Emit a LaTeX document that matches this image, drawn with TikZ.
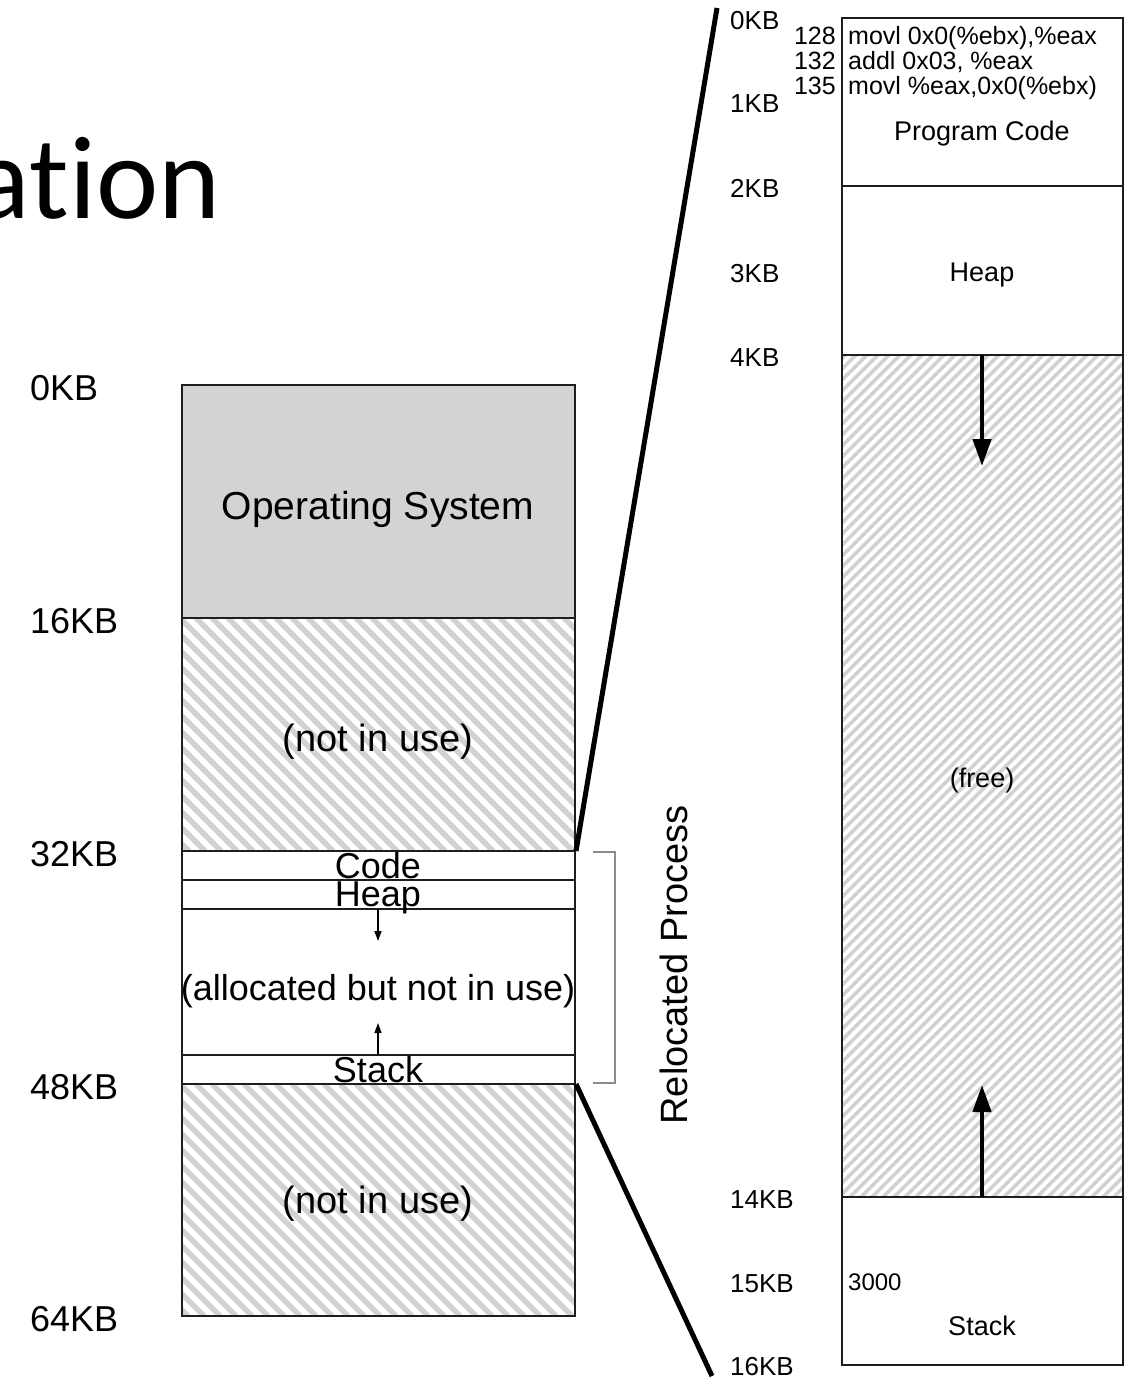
\documentclass[tikz,border=0pt]{standalone}
\usepackage{fontspec}
\setmainfont{Liberation Sans}
\newfontfamily\titlefont[Ligatures=NoCommon,RawFeature={-liga;-clig;-calt;-dlig}]{Carlito}
\usetikzlibrary{arrows.meta}
\newcommand{\fsz}[1]{\fontsize{#1}{#1}\selectfont}
\definecolor{osgray}{HTML}{D3D3D3}
\definecolor{hatchgray}{HTML}{D2D2D2}
\definecolor{edge}{HTML}{1E1E1E}
\definecolor{bracketgray}{HTML}{8C8C8C}
\begin{document}
\begin{tikzpicture}[x=1pt,y=-1pt,
  txt/.style={inner sep=0pt,anchor=base},
  lefttxt/.style={inner sep=0pt,anchor=base west},
  righttxt/.style={inner sep=0pt,anchor=base east},
  hatchL/.style={draw=hatchgray,line width=5.5pt},
  hatchR/.style={draw=hatchgray,line width=3.8pt},
  boxline/.style={draw=edge,line width=2.6pt},
  thinline/.style={draw=edge,line width=2pt},
  bigarrow/.style={line width=4.5pt,-{Triangle[width=18pt,length=27pt]}},
  smallarrow/.style={line width=1.5pt,-{Triangle[width=7pt,length=10pt]}},
  zoomline/.style={line width=5pt,black},
  bracket/.style={draw=bracketgray,line width=2pt}]
\useasboundingbox (0,0) rectangle (1133,1378);

% slide title fragment (t and i kept as separate glyphs)
\node[inner sep=0pt,anchor=base east] (title) at (221,218) {\titlefont\fsz{118}a\mbox{t}\mbox{i}on};

% ---------- physical memory (left) ----------
\fill[osgray] (182,385) rectangle (575,618);
\begin{scope}
  \clip (182,618) rectangle (575,851);
  \foreach \a in {-60,-44,...,590} \draw[hatchL] (\a,618) -- ++(233,233);
\end{scope}
\begin{scope}
  \clip (182,1084) rectangle (575,1316);
  \foreach \a in {-60,-44,...,590} \draw[hatchL] (\a,1084) -- ++(232,232);
\end{scope}
\draw[boxline] (182,385) rectangle (575,1316);
\foreach \yy in {618,851,1084} \draw[boxline] (182,\yy) -- (575,\yy);
\foreach \yy in {880,909,1055} \draw[thinline] (182,\yy) -- (575,\yy);

\coordinate (p32) at (576,851);
\coordinate (p48) at (576,1084);

\node[lefttxt] (k0)  at (30,400)  {\fsz{36}0KB};
\node[lefttxt] (k16) at (30,633)  {\fsz{36}16KB};
\node[lefttxt] (k32) at (30,866)  {\fsz{36}32KB};
\node[lefttxt] (k48) at (30,1099) {\fsz{36}48KB};
\node[lefttxt] (k64) at (30,1331) {\fsz{36}64KB};

\node[txt] (os)    at (378,519)  {\fsz{39}Operating System};
\node[txt] (free1) at (378,751)  {\fsz{38}(not in use)};
\node[txt] (code)  at (378,878)  {\fsz{36}Code};
\node[txt] (heap)  at (378,906)  {\fsz{36}Heap};
\node[txt] (alloc) at (378,1000) {\fsz{36}(allocated but not in use)};
\node[txt] (stack) at (378,1082) {\fsz{36}Stack};
\node[txt] (free2) at (378,1213) {\fsz{38}(not in use)};

\coordinate (hs) at (378,909);
\coordinate (he) at (378,941);
\coordinate (ss) at (378,1055);
\coordinate (se) at (378,1023);
\draw[smallarrow] (hs) -- (he);
\draw[smallarrow] (ss) -- (se);

% bracket and its label
\coordinate (b1) at (593,852);
\coordinate (b2) at (615,852);
\coordinate (b3) at (615,1083);
\coordinate (b4) at (593,1083);
\draw[bracket] (b1) -- (b2) -- (b3) -- (b4);
\node[txt,rotate=90] (reloc) at (687,965) {\fsz{38}Relocated Process};

% ---------- address space (right) ----------
\begin{scope}
  \clip (842,355) rectangle (1123,1197);
  \foreach \a in {-8,3,...,1135} \draw[hatchR] (\a,1197) -- ++(842,-842);
\end{scope}
\draw[boxline] (842,18) rectangle (1123,1365);
\foreach \yy in {186,355,1197} \draw[boxline] (842,\yy) -- (1123,\yy);

\coordinate (a0)  at (717,8);
\coordinate (a16) at (712,1376);
\draw[zoomline] (p32) -- (a0);
\draw[zoomline] (p48) -- (a16);

\node[lefttxt] (r0)  at (730,30)   {\fsz{26}0KB};
\node[lefttxt] (r1)  at (730,113)  {\fsz{26}1KB};
\node[lefttxt] (r2)  at (730,197)  {\fsz{26}2KB};
\node[lefttxt] (r3)  at (730,282)  {\fsz{26}3KB};
\node[lefttxt] (r4)  at (730,366)  {\fsz{26}4KB};
\node[lefttxt] (r14) at (730,1208) {\fsz{26}14KB};
\node[lefttxt] (r15) at (730,1292) {\fsz{26}15KB};
\node[lefttxt] (r16) at (730,1375) {\fsz{26}16KB};

\node[righttxt] (n128) at (836,45) {\fsz{25}128};
\node[righttxt] (n132) at (836,70) {\fsz{25}132};
\node[righttxt] (n135) at (836,95) {\fsz{25}135};
\node[lefttxt] (i1) at (848,45) {\fsz{25}movl 0x0(\%ebx),\%eax};
\node[lefttxt] (i2) at (848,70) {\fsz{25}addl 0x03, \%eax};
\node[lefttxt] (i3) at (848,95) {\fsz{25}movl \%eax,0x0(\%ebx)};

\node[txt] (pcode) at (982,141)  {\fsz{27}Program Code};
\node[txt] (rheap) at (982,281)  {\fsz{27}Heap};
\node[txt] (rfree) at (982,787)  {\fsz{27}(free)};
\node[lefttxt] (sp) at (848,1290) {\fsz{24}3000};
\node[txt] (rstack) at (982,1335) {\fsz{27}Stack};

\coordinate (hd0) at (982,355);
\coordinate (hd1) at (982,466);
\coordinate (su0) at (982,1197);
\coordinate (su1) at (982,1085);
\draw[bigarrow] (hd0) -- (hd1);
\draw[bigarrow] (su0) -- (su1);
\end{tikzpicture}
\end{document}
